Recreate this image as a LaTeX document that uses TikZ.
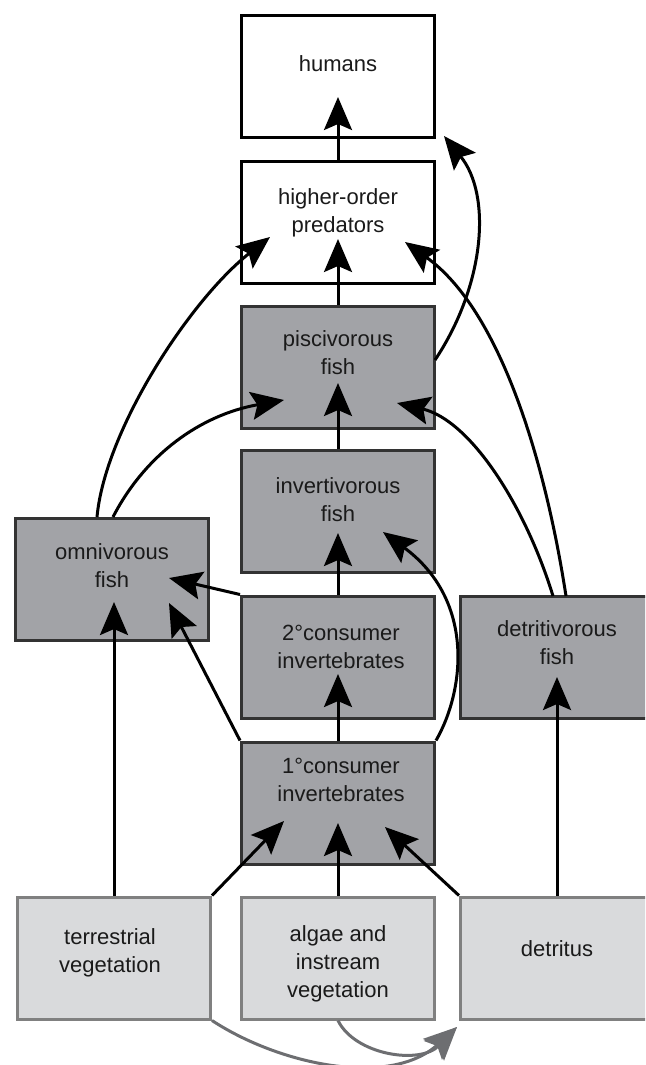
\documentclass[tikz,border=0pt]{standalone}
\usepackage{fontspec}
\setmainfont{Liberation Sans}
\usetikzlibrary{arrows.meta}
\definecolor{boxdark}{HTML}{A2A3A7}
\definecolor{edgedark}{HTML}{333333}
\definecolor{boxlight}{HTML}{D9DADC}
\definecolor{edgelight}{HTML}{808080}
\definecolor{flowgray}{HTML}{6D6E71}
\definecolor{ink}{HTML}{1A1A1A}
\begin{document}
\begin{tikzpicture}[x=1pt,y=-1pt,
  box/.style={rectangle, minimum width=193pt, minimum height=122pt, inner sep=0pt, line width=3pt},
  topbox/.style={box, draw=black, fill=white, line width=3.5pt},
  fishbox/.style={box, draw=edgedark, fill=boxdark},
  basebox/.style={box, draw=edgelight, fill=boxlight},
  lbl/.style={anchor=north, align=center, inner sep=0pt, text=ink, font=\fontsize{22}{28}\selectfont},
  feed/.style={line width=3pt, color=black, -{Stealth[length=33pt,width=28pt,inset=6pt]}},
  flow/.style={feed, color=flowgray},
]
\useasboundingbox (0,0) rectangle (645,1065);
\clip (0,0) rectangle (645,1065);

% boxes
\node[topbox]  (humans)   at (338,76.5) {};
\node[topbox]  (higher)   at (338,222.5) {};
\node[fishbox] (pisc)     at (338,367) {};
\node[fishbox] (invert)   at (338,511) {};
\node[fishbox] (omni)     at (112,579) {};
\node[fishbox] (cons2)    at (338,657) {};
\node[fishbox] (detfish)  at (557,657) {};
\node[fishbox] (cons1)    at (338,803) {};
\node[basebox] (terr)     at (114,958) {};
\node[basebox] (algae)    at (338,958) {};
\node[basebox] (detritus) at (557,958) {};

% labels
\node[lbl] (humans-t)   at (338,55)  {humans};
\node[lbl] (higher-t)   at (338,188) {higher-order\\predators};
\node[lbl] (pisc-t)     at (338,330) {piscivorous\\fish};
\node[lbl] (invert-t)   at (338,477) {invertivorous\\fish};
\node[lbl] (omni-t)     at (112,543) {omnivorous\\fish};
\node[lbl] (cons2-t)    at (341,625) {2°consumer\\invertebrates};
\node[lbl] (detfish-t)  at (557,620) {detritivorous\\fish};
\node[lbl] (cons1-t)    at (341,758) {1°consumer\\invertebrates};
\node[lbl] (terr-t)     at (110,928) {terrestrial\\vegetation};
\node[lbl] (algae-t)    at (338,925) {algae and\\instream\\vegetation};
\node[lbl] (detritus-t) at (557,940) {detritus};

% arrow targets inside the boxes
\coordinate (humans-in)    at (338,97);
\coordinate (humans-cnr)   at (444,136);
\coordinate (higher-in)    at (338,239);
\coordinate (higher-inl)   at (270,237);
\coordinate (higher-inr)   at (405,242);
\coordinate (pisc-in)      at (338,383);
\coordinate (pisc-inl)     at (284,400);
\coordinate (pisc-inr)     at (397,403);
\coordinate (invert-in)    at (338,533);
\coordinate (invert-inr)   at (383,532);
\coordinate (omni-in)      at (114,602);
\coordinate (omni-inr)     at (169,578);
\coordinate (omni-inlow)   at (169,603);
\coordinate (cons2-in)     at (338,674);
\coordinate (detfish-in)   at (557,677);
\coordinate (cons1-in)     at (338,823);
\coordinate (cons1-inl)    at (284,821);
\coordinate (cons1-inr)    at (385,827);
\coordinate (detritus-in)  at (457,1027);
\coordinate (omni-top1)    at (97,517);
\coordinate (omni-top2)    at (113,517);
\coordinate (detfish-top1) at (553,596);
\coordinate (detfish-top2) at (566,596);
\coordinate (pisc-side)    at (435,360);

% feeding links
\draw[feed] (higher.north) -- (humans-in);
\draw[feed] (pisc.north) -- (higher-in);
\draw[feed] (invert.north) -- (pisc-in);
\draw[feed] (cons2.north) -- (invert-in);
\draw[feed] (cons1.north) -- (cons2-in);
\draw[feed] (algae.north) -- (cons1-in);
\draw[feed] (terr.north east) -- (cons1-inl);
\draw[feed] (detritus.north west) -- (cons1-inr);
\draw[feed] (detritus.north) -- (detfish-in);
\draw[feed] (terr.north) -- (omni-in);
\draw[feed] (cons1.north west) -- (omni-inlow);
\draw[feed] (cons2.north west) -- (omni-inr);
\draw[feed] (cons1.north east) .. controls (465,690) and (475,600) .. (invert-inr);
\draw[feed] (omni-top2) .. controls (145,455) and (200,415) .. (pisc-inl);
\draw[feed] (omni-top1) .. controls (105,430) and (190,300) .. (higher-inl);
\draw[feed] (detfish-top2) .. controls (545,460) and (500,310) .. (higher-inr);
\draw[feed] (detfish-top1) .. controls (525,505) and (470,420) .. (pisc-inr);
\draw[feed] (pisc-side) .. controls (485,285) and (492,195) .. (humans-cnr);

% transfers into detritus
\draw[flow] (terr.south east) .. controls (280,1065) and (390,1088) .. (detritus-in);
\draw[flow] (algae.south) .. controls (355,1055) and (420,1065) .. (detritus-in);
\end{tikzpicture}
\end{document}
